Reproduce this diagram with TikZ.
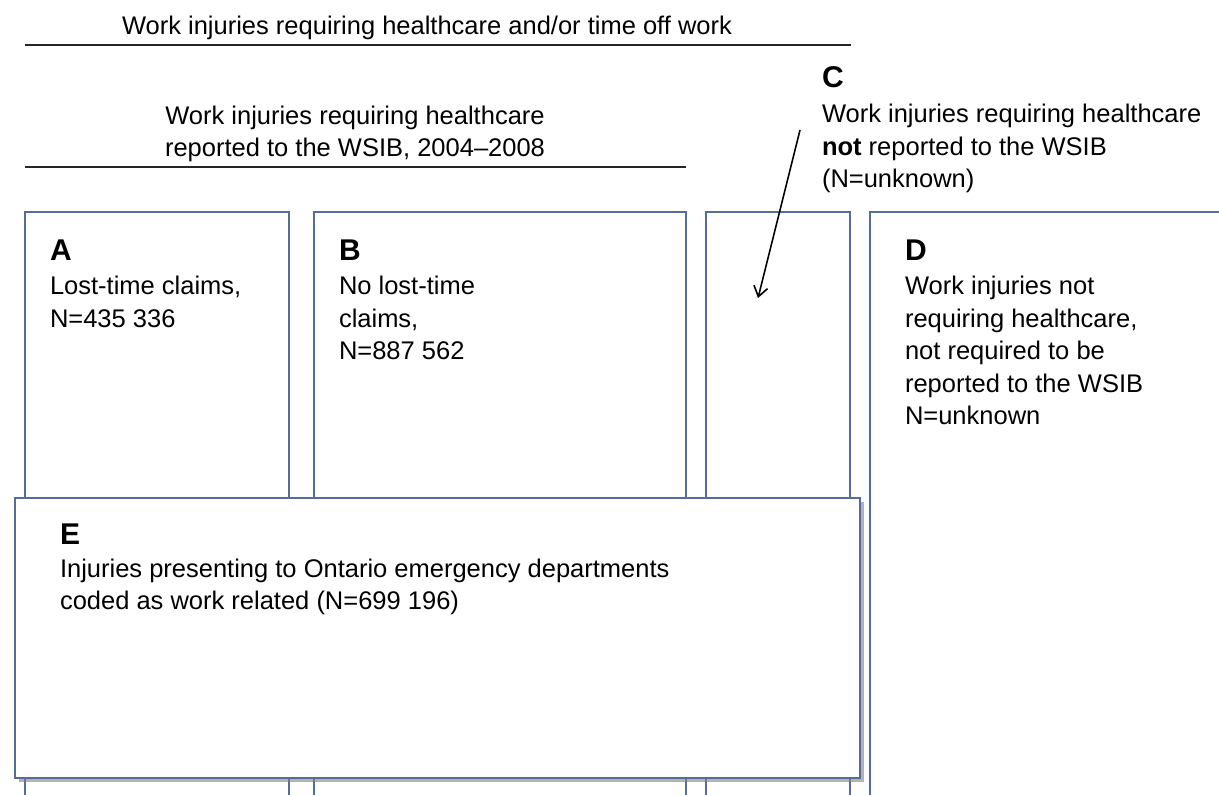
\documentclass[tikz,border=0pt]{standalone}
\usepackage{fontspec}
\setmainfont{Liberation Sans}
\usetikzlibrary{arrows.meta,shadows}
\definecolor{boxblue}{RGB}{84,110,152}

\begin{document}
\fontsize{12.75}{16.25}\selectfont
\begin{tikzpicture}
			[x=0.5pt,y=-0.5pt,
			every node/.style={inner sep=0pt,outer sep=0pt},
			txt/.style={anchor=base west,align=left},
			letter/.style={anchor=base west,font=\fontsize{15}{18}\selectfont\bfseries},
			boxline/.style={draw=boxblue,line width=0.9pt},
			rule/.style={draw=black!85,line width=1pt},
			ebox/.style={boxline,fill=white,minimum width=422.5pt,minimum height=140pt,
				drop shadow={shadow xshift=2pt,shadow yshift=-2pt,opacity=0.6}}]
			\useasboundingbox (0,0) rectangle (1219,795);
			\node[anchor=base] (top) at (427,35) {Work injuries requiring healthcare and/or time off work};
			\draw[rule] (25,45) -- (851,45);
			\node[anchor=base,align=center] (wsib) at (355,157) {Work injuries requiring healthcare\\ reported to the WSIB, 2004--2008};
			\draw[rule] (25,167) -- (686,167);
			\node[letter] (labC) at (822,88) {C};
			\node[txt] (txtC) at (822,188) {Work injuries requiring healthcare\\\textbf{not} reported to the WSIB\\(N=unknown)};
			\draw[boxline] (25,795) |- (289,212) -- (289,795);
			\draw[boxline] (314,795) |- (686,212) -- (686,795);
			\draw[boxline] (706,795) |- (850,212) -- (850,795);
			\draw[boxline] (870,795) |- (1225,212);
			\node[letter] (labA) at (50,261) {A};
			\node[txt] (txtA) at (50,327.5) {Lost-time claims,\\N=435 336};
			\node[letter] (labB) at (339,261) {B};
			\node[txt] (txtB) at (339,360) {No lost-time\\claims,\\N=887 562};
			\node[letter] (labD) at (905,261) {D};
			\node[txt] (txtD) at (905,425) {Work injuries not\\requiring healthcare,\\not required to be\\reported to the WSIB\\N=unknown};
			\coordinate (from) at (800,130);
			\coordinate (to) at (758,298);
			\draw[-{Straight Barb[length=5pt,width=7pt]},line width=0.8pt] (from) -- (to);
			\node[ebox] (boxE) at (437.5,638) {};
			\node[letter] (labE) at (60,545) {E};
			\node[txt] (txtE) at (60,609.5) {Injuries presenting to Ontario emergency departments\\coded as work related (N=699 196)};
		\end{tikzpicture}
\end{document}
